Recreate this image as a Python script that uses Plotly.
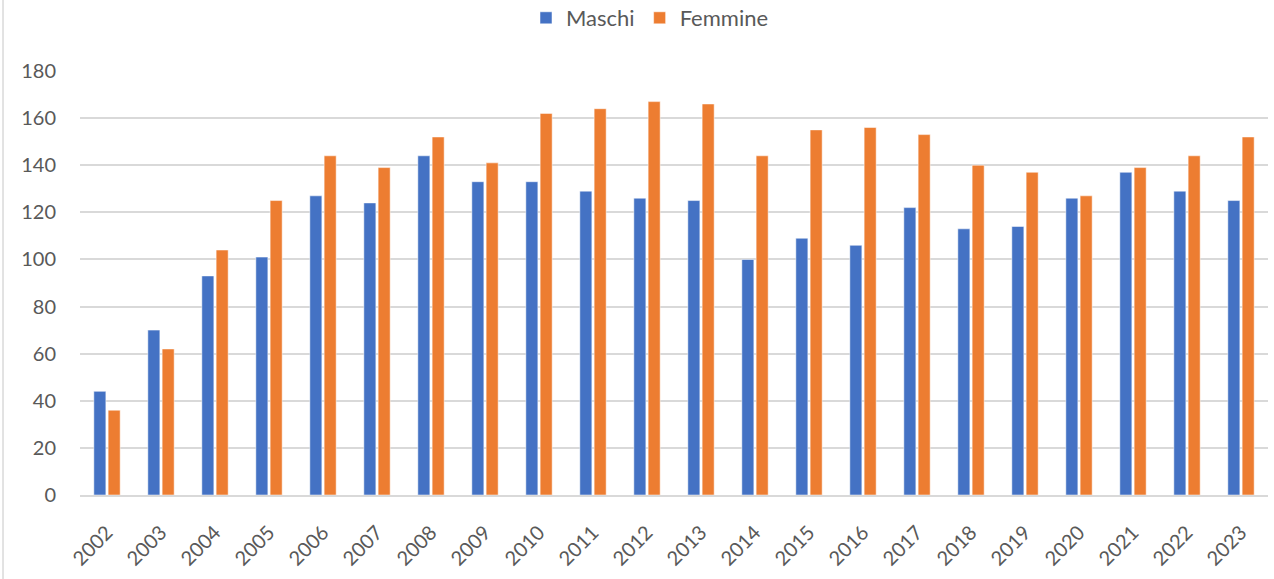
import plotly.graph_objects as go

years = [str(y) for y in range(2002, 2024)]
maschi = [44, 70, 93, 101, 127, 124, 144, 133, 133, 129, 126, 125, 100, 109, 106, 122, 113, 114, 126, 137, 129, 125]
femmine = [36, 62, 104, 125, 144, 139, 152, 141, 162, 164, 167, 166, 144, 155, 156, 153, 140, 137, 127, 139, 144, 152]
y_ticks = [0, 20, 40, 60, 80, 100, 120, 140, 160, 180]

FONT = "Lato"
TXT = "#595959"

fig = go.Figure()
fig.add_trace(go.Bar(name="Maschi", x=years, y=maschi,
                     marker=dict(color="#4472C4", line=dict(color="rgba(255,255,255,0.5)", width=1))))
fig.add_trace(go.Bar(name="Femmine", x=years, y=femmine,
                     marker=dict(color="#ED7D31", line=dict(color="rgba(255,255,255,0.5)", width=1))))

fig.update_layout(
    width=1274, height=579,
    margin=dict(l=80, r=6, t=71, b=84, autoexpand=False),
    paper_bgcolor="white", plot_bgcolor="white",
    barmode="group", bargap=0.47, bargroupgap=0.16,
    font=dict(family=FONT, size=20, color=TXT),
    legend=dict(orientation="h", x=650 / 1274, xanchor="center", xref="container",
                y=1 - 18 / 579, yanchor="middle", yref="container",
                font=dict(family=FONT, size=22, color=TXT), itemwidth=30),
    xaxis=dict(tickangle=-45, showgrid=False, showline=True, linecolor="#d9d9d9", linewidth=2,
               ticks="", ticklabelstandoff=16, automargin=False,
               tickfont=dict(size=20, color=TXT)),
    yaxis=dict(range=[0, 180], tickvals=y_ticks, showgrid=True, gridcolor="#d9d9d9", gridwidth=1.5,
               zeroline=False, showline=False, ticks="", ticklabelstandoff=23, automargin=False,
               tickfont=dict(size=20, color=TXT)),
    shapes=[dict(type="line", xref="paper", yref="paper",
                 x0=-0.0648, x1=-0.0648, y0=-0.2, y1=1.17,
                 line=dict(color="#d9d9d9", width=1.5))],
)

fig.write_html("out.html", config={"displayModeBar": False},
               post_script="document.body.style.margin='0';document.body.style.overflow='hidden';")
